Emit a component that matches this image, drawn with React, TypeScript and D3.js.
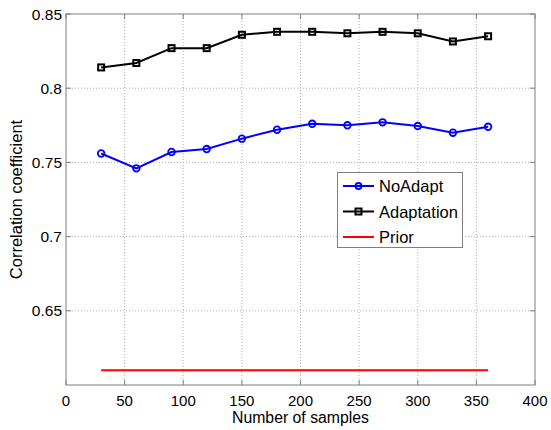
import React, { useEffect, useRef } from 'react';
import * as d3 from 'd3';

const samples = [30, 60, 90, 120, 150, 180, 210, 240, 270, 300, 330, 360];
const noAdapt = [0.756, 0.746, 0.757, 0.759, 0.766, 0.772, 0.776, 0.775, 0.777, 0.7745, 0.770, 0.774];
const adaptation = [0.814, 0.817, 0.827, 0.827, 0.836, 0.838, 0.838, 0.837, 0.838, 0.837, 0.8315, 0.835];
const prior = 0.61;
const xTicks = [0, 50, 100, 150, 200, 250, 300, 350, 400];
const yTicks = [0.65, 0.7, 0.75, 0.8, 0.85];

const width = 551;
const height = 430;
const margin = { top: 14, left: 66, right: 16, bottom: 45 };
const font = 'Liberation Sans, Arial, sans-serif';

export default function App() {
  const ref = useRef<SVGSVGElement>(null);

  useEffect(() => {
    const svg = d3.select(ref.current);
    svg.selectAll('*').remove();

    const x = d3.scaleLinear([0, 400], [margin.left, width - margin.right]);
    const y = d3.scaleLinear([0.6, 0.85], [height - margin.bottom, margin.top]);
    const x0 = x.range()[0], x1 = x.range()[1];
    const y0 = y.range()[0], y1 = y.range()[1];

    // grid
    const grid = svg.append('g').attr('stroke', '#b0b0b0').attr('stroke-dasharray', '1,2').attr('stroke-width', 1);
    xTicks.slice(1, -1).forEach(t => {
      grid.append('line').attr('x1', x(t)).attr('x2', x(t)).attr('y1', y0).attr('y2', y1);
    });
    yTicks.slice(0, -1).forEach(t => {
      grid.append('line').attr('x1', x0).attr('x2', x1).attr('y1', y(t)).attr('y2', y(t));
    });

    // axes box with inward ticks
    const ax = svg.append('g').attr('stroke', '#7f7f7f').attr('stroke-width', 1);
    ax.append('rect').attr('x', x0).attr('y', y1).attr('width', x1 - x0).attr('height', y0 - y1).attr('fill', 'none');
    xTicks.forEach(t => {
      ax.append('line').attr('x1', x(t)).attr('x2', x(t)).attr('y1', y0).attr('y2', y0 - 5);
      ax.append('line').attr('x1', x(t)).attr('x2', x(t)).attr('y1', y1).attr('y2', y1 + 5);
    });
    yTicks.forEach(t => {
      ax.append('line').attr('x1', x0).attr('x2', x0 + 5).attr('y1', y(t)).attr('y2', y(t));
      ax.append('line').attr('x1', x1).attr('x2', x1 - 5).attr('y1', y(t)).attr('y2', y(t));
    });

    const labels = svg.append('g').attr('font-family', font).attr('fill', '#000');
    xTicks.forEach(t => {
      labels.append('text').attr('x', x(t)).attr('y', y0 + 21).attr('font-size', 15)
        .attr('text-anchor', 'middle').text(t);
    });
    yTicks.forEach(t => {
      labels.append('text').attr('x', x0 - 4).attr('y', y(t) + 5.5).attr('font-size', 15.5)
        .attr('text-anchor', 'end').text(String(t));
    });
    labels.append('text').attr('x', (x0 + x1) / 2).attr('y', 423).attr('font-size', 15.8)
      .attr('text-anchor', 'middle').text('Number of samples');
    labels.append('text').attr('font-size', 16.5)
      .attr('transform', `translate(22,${(y0 + y1) / 2}) rotate(-90)`)
      .attr('text-anchor', 'middle').text('Correlation coefficient');

    // prior
    svg.append('line').attr('x1', x(samples[0])).attr('x2', x(samples[samples.length - 1]))
      .attr('y1', y(prior)).attr('y2', y(prior)).attr('stroke', '#ff0000').attr('stroke-width', 2);

    const line = d3.line<number>().x((d, i) => x(samples[i])).y(d => y(d));

    svg.append('path').datum(adaptation).attr('d', line).attr('fill', 'none').attr('stroke', '#000').attr('stroke-width', 2);
    svg.append('g').selectAll('rect').data(adaptation).join('rect')
      .attr('x', (d, i) => x(samples[i]) - 3).attr('y', d => y(d) - 3)
      .attr('width', 6).attr('height', 6)
      .attr('fill', 'none').attr('stroke', '#000').attr('stroke-width', 2);

    svg.append('path').datum(noAdapt).attr('d', line).attr('fill', 'none').attr('stroke', '#0000ff').attr('stroke-width', 2);
    svg.append('g').selectAll('circle').data(noAdapt).join('circle')
      .attr('cx', (d, i) => x(samples[i])).attr('cy', d => y(d)).attr('r', 3.3)
      .attr('fill', 'none').attr('stroke', '#0000ff').attr('stroke-width', 1.8);

    // legend
    const lg = svg.append('g');
    lg.append('rect').attr('x', 337.5).attr('y', 172.5).attr('width', 125).attr('height', 75)
      .attr('fill', '#fff').attr('stroke', '#7f7f7f');
    const items = [
      { name: 'NoAdapt', color: '#0000ff', marker: 'circle' },
      { name: 'Adaptation', color: '#000', marker: 'square' },
      { name: 'Prior', color: '#ff0000', marker: 'none' },
    ];
    items.forEach((it, i) => {
      const cy = 186 + i * 25.5;
      lg.append('line').attr('x1', 343).attr('x2', 374).attr('y1', cy).attr('y2', cy)
        .attr('stroke', it.color).attr('stroke-width', 2);
      if (it.marker === 'circle') {
        lg.append('circle').attr('cx', 358.5).attr('cy', cy).attr('r', 3)
          .attr('fill', 'none').attr('stroke', it.color).attr('stroke-width', 1.8);
      } else if (it.marker === 'square') {
        lg.append('rect').attr('x', 355.5).attr('y', cy - 3).attr('width', 6).attr('height', 6)
          .attr('fill', 'none').attr('stroke', it.color).attr('stroke-width', 2);
      }
      lg.append('text').attr('x', 379).attr('y', cy + 6).attr('font-family', font)
        .attr('font-size', 16.5).text(it.name);
    });
  }, []);

  return (
    <svg ref={ref} width={width} height={height}
      style={{ position: 'absolute', left: 0, top: 0, background: '#fff' }} />
  );
}
